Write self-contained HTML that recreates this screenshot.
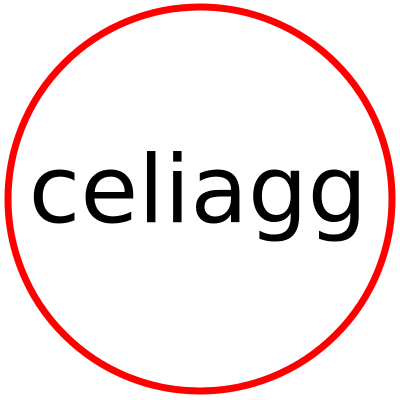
<!DOCTYPE html>
<html><head><meta charset="utf-8"><style>
html,body{margin:0;padding:0;background:#fff;width:400px;height:400px;overflow:hidden}
</style></head><body>
<svg width="400" height="400" viewBox="0 0 400 400">
<circle cx="200" cy="199" r="192" fill="#fff" stroke="#ff0000" stroke-width="7"/>
<text x="198" y="222" text-anchor="middle" font-family="DejaVu Sans, sans-serif" font-size="94" fill="#000">celiagg</text>
</svg>
</body></html>
